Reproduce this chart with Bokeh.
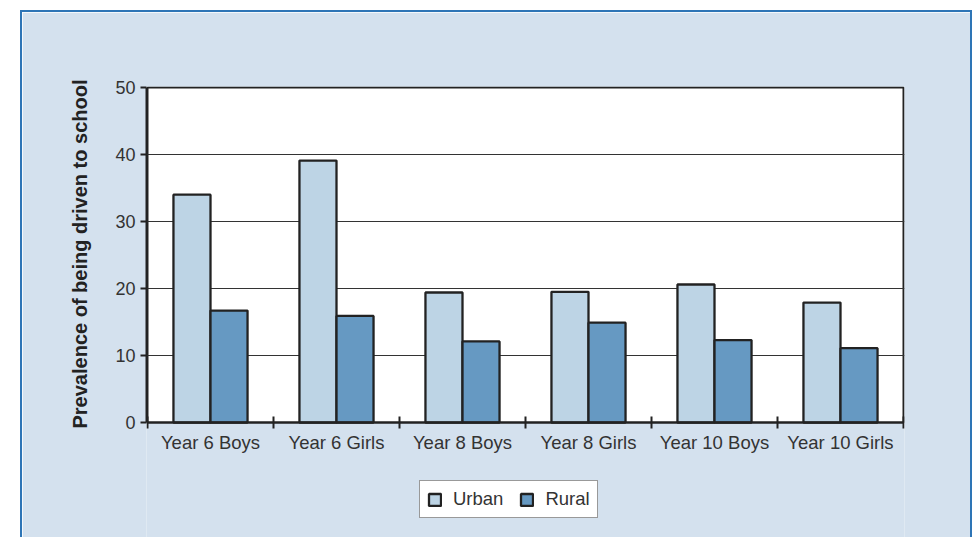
import numpy as np
from bokeh.plotting import figure
from bokeh.models import FixedTicker, Legend, LegendItem, Range1d, Title
from bokeh.embed import file_html
from bokeh.resources import INLINE

categories = ["Year 6 Boys", "Year 6 Girls", "Year 8 Boys", "Year 8 Girls", "Year 10 Boys", "Year 10 Girls"]
urban = [34.0, 39.1, 19.4, 19.5, 20.6, 17.9]
rural = [16.7, 15.9, 12.1, 14.9, 12.3, 11.1]
y_ticks = [0, 10, 20, 30, 40, 50]
series_names = ["Urban", "Rural"]
y_title = "Prevalence of  being driven to school"

URBAN_C = "#bdd4e5"
RURAL_C = "#6699c2"
BG = "#d4e1ee"
DARK = "#222222"
FONT = "Liberation Sans"

n = len(categories)
y_max = y_ticks[-1]
idx = np.arange(n)
bar_w = 0.294
x_urban = idx + 0.5 - bar_w / 2
x_rural = idx + 0.5 + bar_w / 2

# layout (pixels): plot area 756 x 335, frame extended downwards to hold axis + legend
PX_X = 126.0          # px per category
PX_Y = 6.7            # px per unit
PAD = 1.0             # px of frame beyond plot area (so border lines are not clipped)
BELOW = 117.0         # px below the zero line inside the frame

x_range = Range1d(-PAD / PX_X, n + PAD / PX_X)
y_range = Range1d(-BELOW / PX_Y, y_max + PAD / PX_Y)

p = figure(width=952, height=527, output_backend="svg", toolbar_location=None,
           x_range=x_range, y_range=y_range,
           min_border_left=124, min_border_top=74, min_border_right=70, min_border_bottom=0)
p.margin = (10, 0, 0, 20)
p.styles = {"border-top": "2px solid #2e75b6", "border-left": "2px solid #2e75b6",
            "border-right": "2px solid #2e75b6"}
p.border_fill_color = BG
p.background_fill_color = BG
p.outline_line_color = None

# white plot area with dark frame
p.quad(left=[0], right=[n], bottom=[0], top=[y_max], fill_color="white",
       line_color=DARK, line_width=2, level="image")

r_u = p.vbar(x=x_urban, top=urban, width=bar_w, bottom=0, fill_color=URBAN_C,
             line_color=DARK, line_width=2.3)
r_r = p.vbar(x=x_rural, top=rural, width=bar_w, bottom=0, fill_color=RURAL_C,
             line_color=DARK, line_width=2.3)

# x axis drawn at y=0: labels at centres, tick marks at category boundaries
p.xaxis.fixed_location = 0
p.xaxis.bounds = (0, n)
p.xaxis.ticker = FixedTicker(ticks=list(idx + 0.5), minor_ticks=list(range(n + 1)))
p.xaxis.major_label_overrides = {float(i + 0.5): c for i, c in enumerate(categories)}
p.xaxis.major_tick_in = 0
p.xaxis.major_tick_out = 0
p.xaxis.minor_tick_in = 6
p.xaxis.minor_tick_out = 6
p.xaxis.minor_tick_line_color = DARK
p.xaxis.minor_tick_line_width = 2
p.xaxis.major_label_standoff = 3
p.xaxis.major_label_text_font_size = "18.5px"
p.xgrid.visible = False

p.yaxis.bounds = (0, y_max)
p.yaxis.ticker = FixedTicker(ticks=y_ticks, minor_ticks=[])
p.yaxis.major_tick_in = 0
p.yaxis.major_tick_out = 6
p.yaxis.major_tick_line_color = DARK
p.yaxis.major_tick_line_width = 2
p.yaxis.major_label_standoff = 5
p.yaxis.major_label_text_font_size = "18px"

for ax in (p.xaxis, p.yaxis):
    ax.axis_line_color = DARK
    ax.axis_line_width = 2
    ax.major_label_text_font = FONT
    ax.major_label_text_color = "#333333"

# y axis title as a side title, anchored at the bottom of the plot area
ytitle = Title(text=y_title, align="left", offset=111, standoff=44,
               text_font=FONT, text_font_style="bold", text_font_size="20px",
               text_color=DARK)
p.add_layout(ytitle, "left")

p.ygrid.ticker = FixedTicker(ticks=y_ticks[1:-1])
p.ygrid.grid_line_color = "#333333"
p.ygrid.grid_line_width = 1

legend = Legend(items=[LegendItem(label=series_names[0], renderers=[r_u]),
                       LegendItem(label=series_names[1], renderers=[r_r])],
                orientation="horizontal", location=(273, 21))
legend.border_line_color = "#333333"
legend.border_line_width = 1.5
legend.background_fill_color = "white"
legend.background_fill_alpha = 1
legend.label_text_font = FONT
legend.label_text_font_size = "18.5px"
legend.label_text_color = "#333333"
legend.glyph_width = 15
legend.glyph_height = 15
legend.padding = 7
legend.spacing = 16
legend.label_standoff = 11
legend.margin = 0
p.add_layout(legend, "center")

open("out.html", "w").write(file_html(p, INLINE))
